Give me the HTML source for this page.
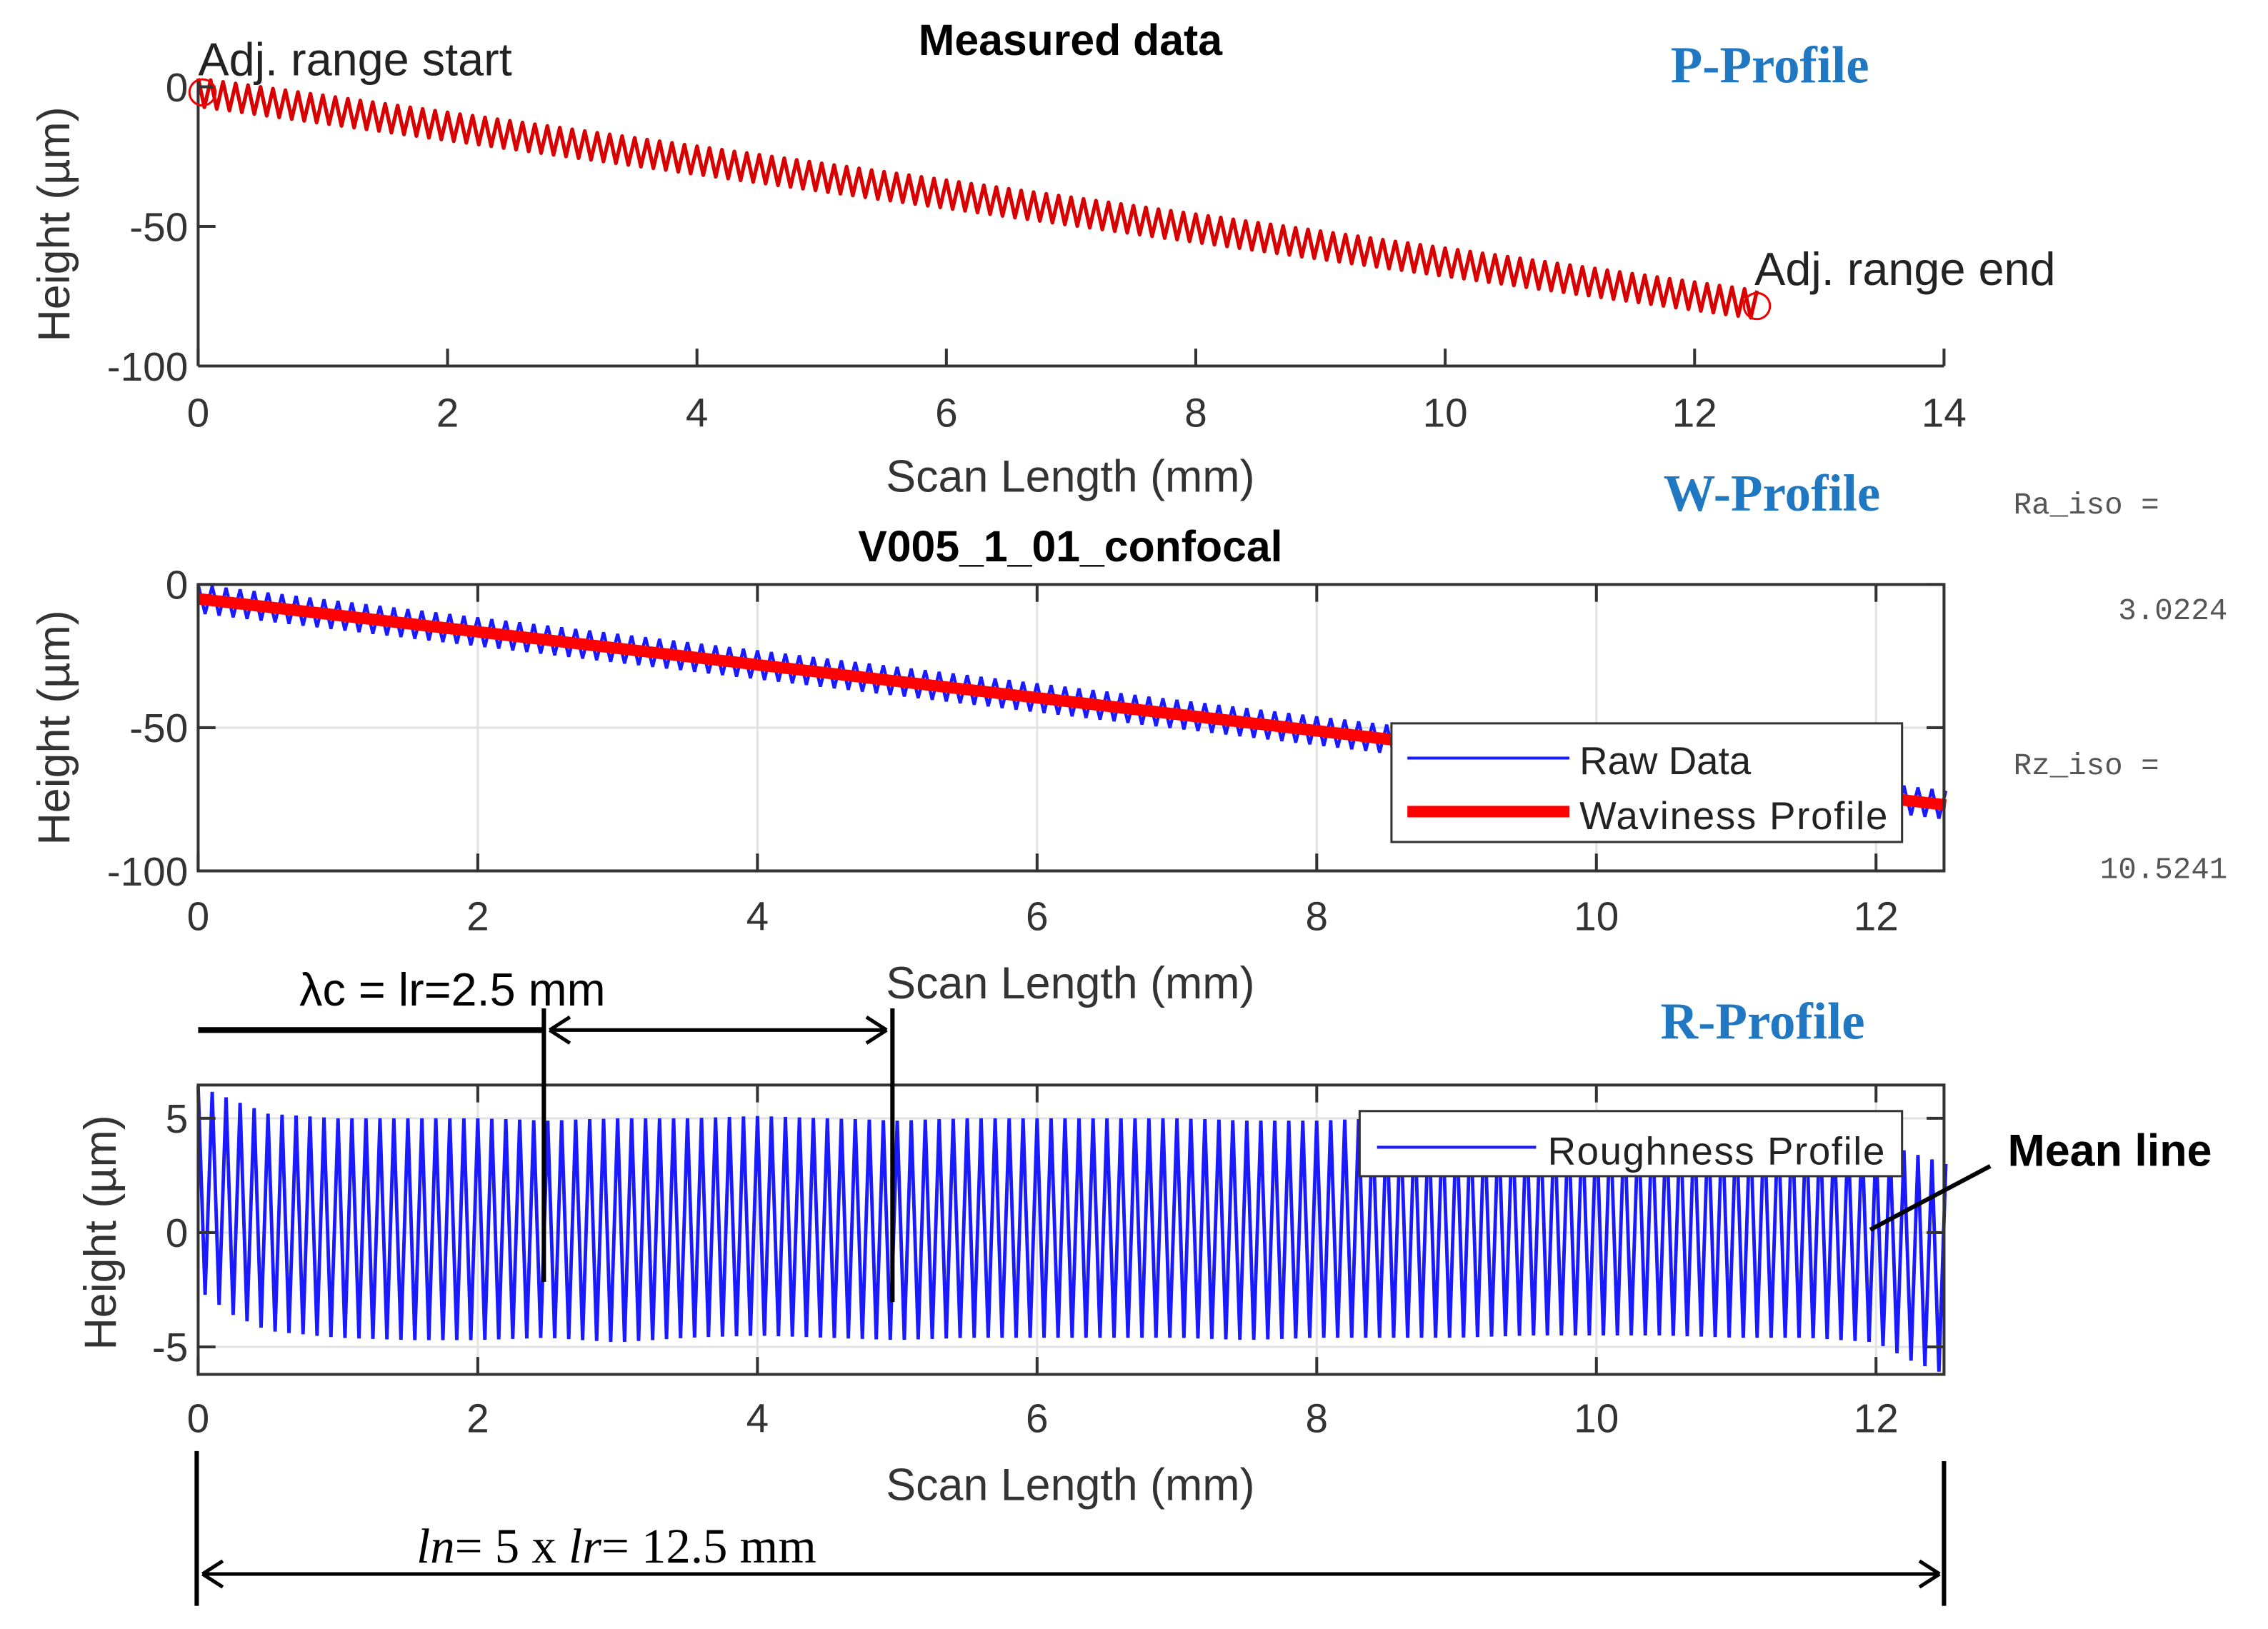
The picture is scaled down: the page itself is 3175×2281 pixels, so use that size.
<!DOCTYPE html>
<html><head><meta charset="utf-8"><style>
html,body{margin:0;padding:0;background:#fff}
svg{display:block}
</style></head><body>
<svg id="fig" width="3175" height="2281" viewBox="0 0 1568 1126" preserveAspectRatio="none" xmlns="http://www.w3.org/2000/svg" font-family="Liberation Sans, sans-serif">
<g id="g1"></g>
<g id="g2"></g>
<g id="g3"></g>
<g id="ann">
<text x="1155" y="57" font-family="Liberation Serif, serif" font-weight="bold" font-size="36" fill="#1f78c1">P-Profile</text>
<text x="1150" y="353" font-family="Liberation Serif, serif" font-weight="bold" font-size="36" fill="#1f78c1">W-Profile</text>
<text x="1148" y="718" font-family="Liberation Serif, serif" font-weight="bold" font-size="36" fill="#1f78c1">R-Profile</text>
<g font-family="Liberation Mono, monospace" font-size="21" fill="#555">
<text x="1392" y="355">Ra_iso =</text>
<text x="1540" y="428" text-anchor="end">3.0224</text>
<text x="1392" y="535">Rz_iso =</text>
<text x="1540" y="607" text-anchor="end">10.5241</text>
</g>
<text x="1388" y="806" font-weight="bold" font-size="31">Mean line</text>
<line x1="1376" y1="806" x2="1293" y2="850" stroke="#000" stroke-width="3"/>
<text x="207" y="695" font-size="32">λc = lr=2.5 mm</text>
<line x1="137" y1="712" x2="376" y2="712" stroke="#000" stroke-width="4"/>
<line x1="380" y1="712" x2="613" y2="712" stroke="#000" stroke-width="2.5"/>
<path d="M380 712 l14 -9 M380 712 l14 9 M613 712 l-14 -9 M613 712 l-14 9" stroke="#000" stroke-width="2.5"/>
<line x1="376" y1="697" x2="376" y2="886" stroke="#000" stroke-width="3"/>
<line x1="617" y1="697" x2="617" y2="900" stroke="#000" stroke-width="3"/>
<line x1="136" y1="1003" x2="136" y2="1110" stroke="#000" stroke-width="3"/>
<line x1="1344" y1="1010" x2="1344" y2="1110" stroke="#000" stroke-width="3"/>
<line x1="140" y1="1088" x2="1341" y2="1088" stroke="#000" stroke-width="2.5"/>
<path d="M140 1088 l14 -9 M140 1088 l14 9 M1341 1088 l-14 -9 M1341 1088 l-14 9" stroke="#000" stroke-width="2.5"/>
<text x="288" y="1080" font-family="Liberation Serif, serif" font-size="34"><tspan font-style="italic">ln</tspan>= 5 x <tspan font-style="italic">lr</tspan>= 12.5 mm</text>
</g>
</svg>
<script>
// P-profile data
const pTrend = [-2, -78];
const pAmp = [5, 5];
const scanRange = [0, 12.5];
const period = 0.1;
const p1XTicks = [0,2,4,6,8,10,12,14];
const p1YTicks = [0,-50,-100];
// W-profile
const wTrend = [-5, -77];
const wAmp = [5, 5];
const wXTicks = [0,2,4,6,8,10,12];
const wYTicks = [0,-50,-100];
// R-profile envelope
const rEnvX = [0,0.25,0.5,1,1.5,2,2.5,3,3.5,4,4.5,5,5.5,6,6.5,7,7.5,8,8.5,9,9.5,10,10.5,11,11.5,12,12.25,12.5];
const rUpper = [6.4,5.8,5.2,5.0,5.0,5.0,4.9,5.0,5.0,5.1,5.0,4.9,5.0,5.0,5.0,5.0,4.9,4.9,5.0,5.0,5.0,5.0,5.0,5.0,5.0,4.0,3.5,3.0];
const rLower = [-2.5,-3.6,-4.3,-4.6,-4.7,-4.7,-4.6,-4.8,-4.6,-4.5,-4.6,-4.7,-4.6,-4.6,-4.6,-4.6,-4.7,-4.6,-4.6,-4.6,-4.5,-4.5,-4.5,-4.6,-4.6,-4.8,-5.6,-6.2];
const rYTicks = [5,0,-5];

const NS="http://www.w3.org/2000/svg";
function mk(parent,tag,attrs,txt){const e=document.createElementNS(NS,tag);for(const k in attrs)e.setAttribute(k,attrs[k]);if(txt!==undefined)e.textContent=txt;parent.appendChild(e);return e;}
function lerp(a,b,t){return a+(b-a)*t;}
function interp(xs,ys,x){for(let i=1;i<xs.length;i++){if(x<=xs[i]){const t=(x-xs[i-1])/(xs[i]-xs[i-1]);return lerp(ys[i-1],ys[i],t);}}return ys[ys.length-1];}
function wavePts(trend,amp,sx,sy){
  const pts=[];const n=Math.round((scanRange[1]-scanRange[0])/period*2);
  for(let i=0;i<=n;i++){const x=scanRange[0]+i*period/2;const t=x/scanRange[1];
    const base=lerp(trend[0],trend[1],t);const a=lerp(amp[0],amp[1],t);
    pts.push(sx(x).toFixed(1)+","+sy(base+(i%2?-a:a)).toFixed(1));}
  return pts.join(" ");
}
function axesLabels(g,cx,cy,xlabY){
  const t=mk(g,"text",{x:740,y:xlabY,"text-anchor":"middle","font-size":31,fill:"#333"},"Scan Length (mm)");
  
  
  const y=mk(g,"text",{x:0,y:0,"text-anchor":"middle","font-size":31,fill:"#333",transform:`translate(${cx},${cy}) rotate(-90)`},"Height (µm)");
  
  
}

// ---- Chart 1
(function(){
  const g=document.getElementById("g1");
  const sx=x=>137+(x-0)/14*(1344-137), sy=v=>60+(0-v)/100*(253-60);
  mk(g,"polyline",{points:wavePts(pTrend,pAmp,sx,sy),fill:"none",stroke:"#d80000","stroke-width":2.6,"stroke-linejoin":"round"});
  mk(g,"line",{x1:137,y1:55,x2:137,y2:253,stroke:"#333","stroke-width":2});
  mk(g,"line",{x1:137,y1:253,x2:1344,y2:253,stroke:"#333","stroke-width":2});
  p1XTicks.forEach(v=>{mk(g,"line",{x1:sx(v),y1:253,x2:sx(v),y2:241,stroke:"#333","stroke-width":2});
    const t=mk(g,"text",{x:sx(v),y:295,"text-anchor":"middle","font-size":28,fill:"#333"},String(v));});
  p1YTicks.forEach(v=>{mk(g,"line",{x1:137,y1:sy(v),x2:149,y2:sy(v),stroke:"#333","stroke-width":2});
    const t=mk(g,"text",{x:130,y:sy(v)+10,"text-anchor":"end","font-size":28,fill:"#333"},String(v));});
  const c1=mk(g,"circle",{cx:sx(0)+3,cy:sy(pTrend[0]),r:9,fill:"none",stroke:"#e00","stroke-width":1.5});
  const c2=mk(g,"circle",{cx:sx(12.5),cy:sy(pTrend[1])+1,r:9,fill:"none",stroke:"#e00","stroke-width":1.5});
  mk(g,"text",{x:137,y:52,"font-size":32,fill:"#222"},"Adj. range start");
  mk(g,"text",{x:1213,y:197,"font-size":32,fill:"#222"},"Adj. range end");
  mk(g,"text",{x:740,y:38,"text-anchor":"middle","font-size":30,"font-weight":"bold"},"Measured data");
  axesLabels(g,48,155,340);
})();

function boxed(g,top,bot,xTicks,yTicks,sx,sy){
  mk(g,"rect",{x:137,y:top,width:1207,height:bot-top,fill:"#fff"});
  xTicks.forEach(v=>mk(g,"line",{x1:sx(v),y1:top,x2:sx(v),y2:bot,stroke:"#e3e3e3","stroke-width":1.5}));
  yTicks.forEach(v=>mk(g,"line",{x1:137,y1:sy(v),x2:1344,y2:sy(v),stroke:"#e3e3e3","stroke-width":1.5}));
}
function boxFrame(g,top,bot,xTicks,yTicks,sx,sy,tickY){
  mk(g,"rect",{x:137,y:top,width:1207,height:bot-top,fill:"none",stroke:"#333","stroke-width":2});
  xTicks.forEach(v=>{mk(g,"line",{x1:sx(v),y1:bot,x2:sx(v),y2:bot-12,stroke:"#333","stroke-width":2});mk(g,"line",{x1:sx(v),y1:top,x2:sx(v),y2:top+12,stroke:"#333","stroke-width":2});
    const t=mk(g,"text",{x:sx(v),y:tickY,"text-anchor":"middle","font-size":28,fill:"#333"},String(v));});
  yTicks.forEach(v=>{mk(g,"line",{x1:137,y1:sy(v),x2:149,y2:sy(v),stroke:"#333","stroke-width":2});mk(g,"line",{x1:1344,y1:sy(v),x2:1332,y2:sy(v),stroke:"#333","stroke-width":2});
    const t=mk(g,"text",{x:130,y:sy(v)+10,"text-anchor":"end","font-size":28,fill:"#333"},String(v));});
}
// ---- Chart 2
(function(){
  const g=document.getElementById("g2");
  const sx=x=>137+x/12*(1297-137), sy=v=>404+(0-v)/100*(602-404);
  boxed(g,404,602,wXTicks,wYTicks,sx,sy);
  mk(g,"polyline",{points:wavePts(wTrend,wAmp,sx,sy),fill:"none",stroke:"#1a1aff","stroke-width":2.2});
  mk(g,"line",{x1:sx(0),y1:sy(wTrend[0]),x2:sx(12.5),y2:sy(wTrend[1]),stroke:"#ff0000","stroke-width":8});
  boxFrame(g,404,602,wXTicks,wYTicks,sx,sy,643);
  const lg=mk(g,"g",{});
  mk(lg,"rect",{x:962,y:500,width:353,height:82,fill:"#fff",stroke:"#333","stroke-width":1.5});
  mk(lg,"line",{x1:973,y1:524,x2:1085,y2:524,stroke:"#1a1aff","stroke-width":2});
  mk(lg,"text",{x:1092,y:535,"font-size":27,fill:"#222"},"Raw Data");
  mk(lg,"line",{x1:973,y1:561,x2:1085,y2:561,stroke:"#ff0000","stroke-width":8});
  mk(lg,"text",{x:1092,y:573,"font-size":27,fill:"#222",textLength:213},"Waviness Profile");
  mk(g,"text",{x:740,y:388,"text-anchor":"middle","font-size":30,"font-weight":"bold"},"V005_1_01_confocal");
  axesLabels(g,48,503,690);
})();
// ---- Chart 3
(function(){
  const g=document.getElementById("g3");
  const sx=x=>137+x/12*(1297-137), sy=v=>852-v*15.8;
  boxed(g,750,950,wXTicks,rYTicks,sx,sy);
  const pts=[];const n=Math.round(scanRange[1]/period*2);
  for(let i=0;i<=n;i++){const x=i*period/2;const v=i%2?interp(rEnvX,rLower,x):interp(rEnvX,rUpper,x);
    pts.push(sx(x).toFixed(1)+","+Math.max(751,Math.min(949,sy(v))).toFixed(1));}
  mk(g,"polyline",{points:pts.join(" "),fill:"none",stroke:"#1a1aff","stroke-width":2.4});
  boxFrame(g,750,950,wXTicks,rYTicks,sx,sy,990);
  const lg=mk(g,"g",{});
  mk(lg,"rect",{x:940,y:768,width:375,height:45,fill:"#fff",stroke:"#333","stroke-width":1.5});
  mk(lg,"line",{x1:952,y1:793,x2:1062,y2:793,stroke:"#1a1aff","stroke-width":2});
  mk(lg,"text",{x:1070,y:805,"font-size":27,fill:"#222",textLength:233},"Roughness Profile");
  axesLabels(g,80,852,1037);
})();
</script>
</body></html>
